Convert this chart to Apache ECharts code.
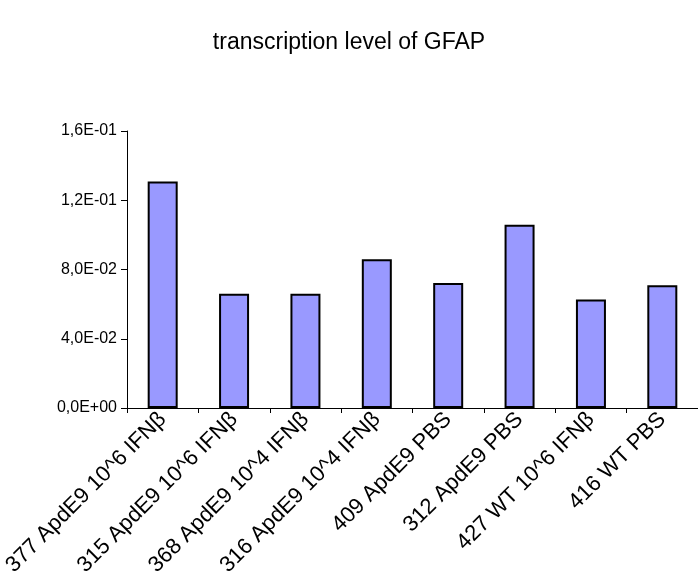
<!DOCTYPE html>
<html><head><meta charset="utf-8">
<script src="https://cdn.jsdelivr.net/npm/echarts@6/dist/echarts.min.js"></script>
<style>html,body{margin:0;padding:0;background:#fff}#c{width:698px;height:583px}</style>
</head><body><div id="c"></div>
<script>
const categories = ["377 ApdE9 10^6 IFNβ","315 ApdE9 10^6 IFNβ","368 ApdE9 10^4 IFNβ","316 ApdE9 10^4 IFNβ","409 ApdE9 PBS","312 ApdE9 PBS","427 WT 10^6 IFNβ","416 WT PBS"];
const values = [0.1309, 0.0660, 0.0660, 0.0859, 0.0722, 0.1059, 0.0626, 0.0709];
const yTicks = [0, 0.04, 0.08, 0.12, 0.16];
function fmt(v){
  const s = v.toExponential(1);
  const m = s.split('e');
  let e = parseInt(m[1],10);
  const sign = e < 0 ? '-' : '+';
  e = Math.abs(e);
  return m[0].replace('.', ',') + 'E' + sign + (e<10?'0':'') + e;
}
const chart = echarts.init(document.getElementById('c'));
chart.setOption({
  animation:false,
  title:{text:'transcription level of GFAP', left:'center', top:26,
    textStyle:{fontFamily:'Liberation Sans', fontSize:23, fontWeight:'normal', color:'#000'}},
  grid:{left:127, top:131, width:577, height:277, containLabel:false},
  xAxis:{type:'category', data:categories,
    axisLine:{lineStyle:{color:'#000', width:1}},
    axisTick:{show:true, length:5, lineStyle:{color:'#000'}},
    axisLabel:{rotate:45, interval:0, margin:8, fontFamily:'Liberation Sans', fontSize:22, color:'#000'}},
  yAxis:{type:'value', min:yTicks[0], max:yTicks[yTicks.length-1], interval:0.04,
    splitLine:{show:false},
    axisLine:{show:true, lineStyle:{color:'#000', width:1}},
    axisTick:{show:true, length:6, lineStyle:{color:'#000'}},
    axisLabel:{margin:10, fontFamily:'Liberation Sans', fontSize:16, color:'#000', formatter:fmt}},
  series:[{type:'bar', data:values, barWidth:30,
    itemStyle:{color:'#9999ff', borderColor:'#000', borderWidth:2}}]
});
</script></body></html>
